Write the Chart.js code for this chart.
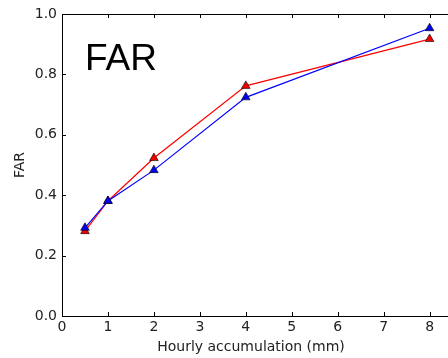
<!DOCTYPE html>
<html lang="en">
<head>
  <meta charset="UTF-8">
  <title>FAR</title>
  <script src="https://cdn.jsdelivr.net/npm/chart.js"></script>
  <style>
    html, body {
      margin: 0;
      padding: 0;
      background: #fff;
    }
    #wrap {
      width: 448px;
      height: 358px;
    }
  </style>
</head>
<body>
  <div id="wrap">
    <canvas id="myChart" width="448" height="358"></canvas>
  </div>

  <script>
    // data
    const accumulation = [0.5, 1, 2, 4, 8];
    const farRed = [0.281, 0.381, 0.523, 0.762, 0.917];
    const farBlue = [0.292, 0.381, 0.483, 0.724, 0.953];
    const xTicks = [0, 1, 2, 3, 4, 5, 6, 7, 8];
    const yTicks = [0, 0.2, 0.4, 0.6, 0.8, 1.0];

    const font = "'DejaVu Sans', sans-serif";

    function toPoints(xs, ys) {
      return xs.map((x, i) => ({ x: x, y: ys[i] }));
    }

    // frame, inward ticks, the big "FAR" text and the x axis label
    const framePlugin = {
      id: 'frame',
      beforeDatasetsDraw(chart) {
        const ctx = chart.ctx;
        const a = chart.chartArea;
        const xs = chart.scales.x;
        const ys = chart.scales.y;
        ctx.save();
        ctx.strokeStyle = '#000';
        ctx.lineWidth = 1;
        ctx.beginPath();
        xTicks.forEach(t => {
          const px = Math.round(xs.getPixelForValue(t)) + 0.5;
          ctx.moveTo(px, a.bottom);
          ctx.lineTo(px, a.bottom - 4);
          ctx.moveTo(px, a.top);
          ctx.lineTo(px, a.top + 4);
        });
        yTicks.forEach(t => {
          const py = Math.round(ys.getPixelForValue(t)) + 0.5;
          ctx.moveTo(a.left, py);
          ctx.lineTo(a.left + 4, py);
        });
        ctx.stroke();
        ctx.strokeRect(a.left + 0.5, a.top + 0.5, a.right - a.left + 2, a.bottom - a.top);

        ctx.fillStyle = '#000';
        ctx.font = "37px 'Liberation Sans', Arial, sans-serif";
        ctx.textBaseline = 'alphabetic';
        ctx.fillText('FAR', 85, 70);

        ctx.fillStyle = '#222';
        ctx.font = "14px " + font;
        ctx.textAlign = 'center';
        ctx.textBaseline = 'middle';
        ctx.fillText('Hourly accumulation (mm)', 251, 347);
        ctx.restore();
      }
    };

    const ctx = document.getElementById('myChart').getContext('2d');
    new Chart(ctx, {
      type: 'line',
      data: {
        datasets: [
          {
            label: 'red',
            data: toPoints(accumulation, farRed),
            borderColor: '#ff0000',
            backgroundColor: '#ee0000',
            borderWidth: 1.2,
            pointStyle: 'triangle',
            pointRadius: 5,
            pointBorderColor: '#000',
            pointBorderWidth: 0.6,
            tension: 0,
            clip: false,
            order: 2
          },
          {
            label: 'blue',
            data: toPoints(accumulation, farBlue),
            borderColor: '#0000ff',
            backgroundColor: '#0000ee',
            borderWidth: 1.2,
            pointStyle: 'triangle',
            pointRadius: 5,
            pointBorderColor: '#000',
            pointBorderWidth: 0.6,
            tension: 0,
            clip: false,
            order: 1
          }
        ]
      },
      options: {
        responsive: false,
        animation: false,
        layout: {
          autoPadding: false,
          padding: { top: 14, right: 0, left: 0, bottom: 0 }
        },
        plugins: {
          legend: { display: false },
          tooltip: { enabled: false }
        },
        scales: {
          x: {
            type: 'linear',
            min: 0,
            max: 8.4,
            afterBuildTicks: scale => {
              scale.ticks = xTicks.map(v => ({ value: v }));
            },
            afterFit: scale => {
              scale.height = 42;
              scale.paddingLeft = 0;
              scale.paddingRight = 0;
            },
            grid: { display: false, drawTicks: false },
            border: { display: false },
            ticks: {
              padding: 3,
              color: '#222',
              font: { family: font, size: 14 },
              maxRotation: 0,
              callback: v => String(v)
            },
            title: { display: false }
          },
          y: {
            min: 0,
            max: 1,
            afterBuildTicks: scale => {
              scale.ticks = yTicks.map(v => ({ value: v }));
            },
            afterFit: scale => {
              scale.width = 62;
              scale.paddingTop = 0;
              scale.paddingBottom = 0;
            },
            grid: { display: false, drawTicks: false },
            border: { display: false },
            ticks: {
              padding: 5,
              color: '#222',
              font: { family: font, size: 14 },
              callback: v => v.toFixed(1)
            },
            title: {
              display: true,
              text: 'FAR',
              color: '#222',
              font: { family: font, size: 14 },
              padding: { top: 12, bottom: 0 }
            }
          }
        }
      },
      plugins: [framePlugin]
    });
  </script>
</body>
</html>
